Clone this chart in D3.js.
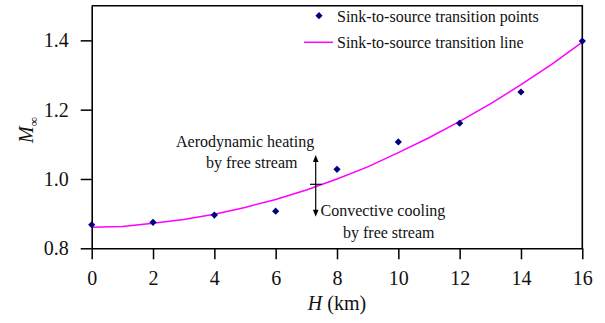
<!DOCTYPE html>
<html>
<head>
<meta charset="utf-8">
<script src="https://cdn.jsdelivr.net/npm/d3@7"></script>
<style>
  html, body { margin: 0; padding: 0; background: #fff; }
  svg { display: block; }
</style>
</head>
<body>
<svg id="chart" width="605" height="323"></svg>
<script>
// Altitude H (km) at which the sink-to-source transition was computed
const pointH = [0, 2, 4, 6, 8, 10, 12, 14, 16];
// Free-stream Mach number at the transition
const pointM = [0.868, 0.875, 0.896, 0.907, 1.028, 1.107, 1.161, 1.251, 1.398];

// Transition line sampled along H
const lineH = [0, 1, 2, 3, 4, 5, 6, 7, 8, 9, 10, 11, 12, 13, 14, 15, 16];
const lineM = [0.861, 0.863, 0.872, 0.883, 0.898, 0.918, 0.941, 0.968, 1.000,
               1.035, 1.076, 1.119, 1.166, 1.217, 1.272, 1.331, 1.395];

const xTicks = [0, 2, 4, 6, 8, 10, 12, 14, 16];
const yTicks = [0.8, 1.0, 1.2, 1.4];

const legendLabels = ["Sink-to-source transition points", "Sink-to-source transition line"];

const FONT = "'Liberation Serif'";
const svg = d3.select("#chart");
const plotL = 91.7, plotR = 582.3, plotT = 5.7, plotB = 248.3;

const x = d3.scaleLinear().domain([0, 16]).range([plotL, plotR]);
const y = d3.scaleLinear().domain([0.8, 1.5]).range([plotB, plotT]);

// frame: top and right edges
svg.append("path")
  .attr("d", `M${plotL},${plotT}H${plotR}V${plotB}`)
  .attr("fill", "none").attr("stroke", "#000").attr("stroke-width", 1.6);

// axes
const xAxis = svg.append("g")
  .attr("transform", `translate(0,${plotB})`)
  .call(d3.axisBottom(x).tickValues(xTicks).tickFormat(d3.format("d"))
        .tickSize(11).tickSizeOuter(0).tickPadding(11.5));
const yAxis = svg.append("g")
  .attr("transform", `translate(${plotL},0)`)
  .call(d3.axisLeft(y).tickValues(yTicks).tickFormat(d3.format(".1f"))
        .tickSize(11).tickSizeOuter(0).tickPadding(12));

[xAxis, yAxis].forEach(g => {
  g.attr("font-family", null).attr("font-size", null);
  g.selectAll(".domain").attr("stroke", "#000").attr("stroke-width", 1.6);
  g.selectAll(".tick line").attr("stroke", "#000").attr("stroke-width", 1.5);
  g.selectAll(".tick text")
    .attr("fill", "#111")
    .style("font-family", FONT)
    .style("font-size", "20px");
});

// axis titles
svg.append("text")
  .attr("x", 337).attr("y", 310)
  .attr("text-anchor", "middle")
  .style("font-family", FONT).style("font-size", "20px").attr("fill", "#111")
  .call(t => {
    t.append("tspan").style("font-style", "italic").text("H");
    t.append("tspan").text(" (km)");
  });

svg.append("text")
  .attr("transform", "translate(33,130) rotate(-90)")
  .attr("text-anchor", "middle")
  .style("font-family", FONT).style("font-size", "20px").attr("fill", "#111")
  .call(t => {
    t.append("tspan").style("font-style", "italic").text("M");
    t.append("tspan").attr("dy", 5).style("font-size", "13px").text("∞");
  });

// transition line
const line = d3.line().x((d, i) => x(lineH[i])).y(d => y(d));
svg.append("path")
  .datum(lineM)
  .attr("d", line)
  .attr("fill", "none")
  .attr("stroke", "#ff00ff")
  .attr("stroke-width", 1.5);

// transition points: square diamonds
const diamond = d3.symbol().type(d3.symbolSquare).size(26);
svg.append("g").selectAll("path")
  .data(pointM)
  .join("path")
  .attr("d", diamond)
  .attr("transform", (d, i) => `translate(${x(pointH[i])},${y(d)}) rotate(45)`)
  .attr("fill", "#00007f");

// legend
const legend = svg.append("g");
legend.append("path")
  .attr("d", diamond)
  .attr("transform", "translate(319,15.7) rotate(45)")
  .attr("fill", "#00007f");
legend.append("line")
  .attr("x1", 304).attr("x2", 333).attr("y1", 42.3).attr("y2", 42.3)
  .attr("stroke", "#ff00ff").attr("stroke-width", 1.5);
legend.selectAll("text")
  .data(legendLabels)
  .join("text")
  .attr("x", 337)
  .attr("y", (d, i) => 21.5 + i * 26.5)
  .style("font-family", FONT).style("font-size", "16px").attr("fill", "#111")
  .text(d => d);

// heating / cooling annotation
const annText = [
  { x: 176, y: 147, t: "Aerodynamic heating" },
  { x: 206, y: 168, t: "by free stream" },
  { x: 320.5, y: 216, t: "Convective cooling" },
  { x: 343, y: 237.5, t: "by free stream" }
];
svg.append("g").selectAll("text")
  .data(annText)
  .join("text")
  .attr("x", d => d.x).attr("y", d => d.y)
  .style("font-family", FONT).style("font-size", "16px").attr("fill", "#111")
  .text(d => d.t);

const ax = 315.7, aTop = 155, aBot = 216.7, aMid = 184.3;
svg.append("line")
  .attr("x1", ax).attr("x2", ax).attr("y1", aTop + 5).attr("y2", aBot - 5)
  .attr("stroke", "#000").attr("stroke-width", 1.2);
svg.append("line")
  .attr("x1", 310).attr("x2", 321.7).attr("y1", aMid).attr("y2", aMid)
  .attr("stroke", "#000").attr("stroke-width", 1.2);
svg.append("path")
  .attr("d", `M${ax},${aTop}L${ax - 2.8},${aTop + 7}L${ax + 2.8},${aTop + 7}Z`)
  .attr("fill", "#000");
svg.append("path")
  .attr("d", `M${ax},${aBot}L${ax - 2.8},${aBot - 7}L${ax + 2.8},${aBot - 7}Z`)
  .attr("fill", "#000");
</script>
</body>
</html>
